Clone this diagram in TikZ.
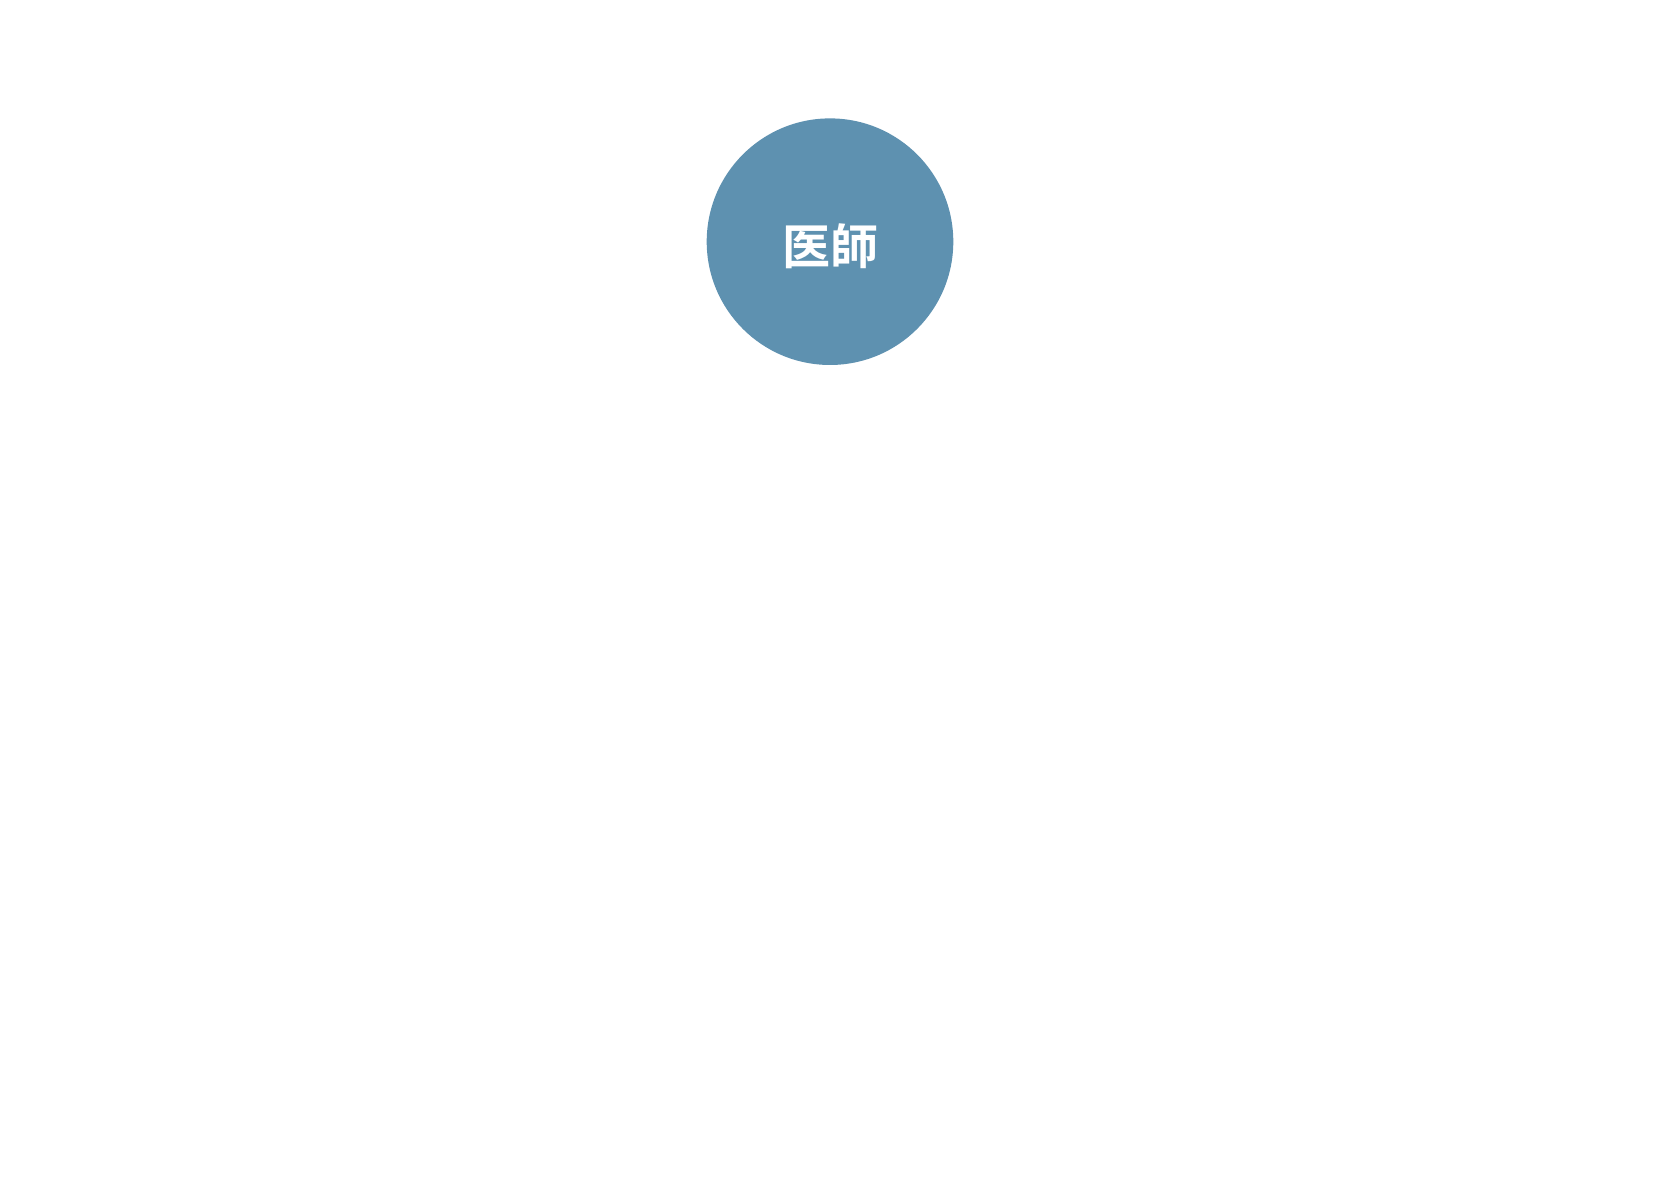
\documentclass[tikz,border=0pt]{standalone}
\usepackage{fontspec}
\newfontfamily\cjk{Noto Sans CJK JP Bold}
\definecolor{docblue}{HTML}{5E91B0}
\tikzset{rolecircle/.style={circle,fill=docblue,draw=none,minimum size=246.6pt,inner sep=0pt,text=white,font=\cjk\fontsize{48pt}{52pt}\selectfont}}
\begin{document}
\begin{tikzpicture}[x=1pt,y=1pt]
\useasboundingbox (0,0) rectangle (1660,1180);
\node[rolecircle] (doctor) at (830,938.3) {\raisebox{-4.5pt}[\height][\depth]{医師}};
\end{tikzpicture}
\end{document}
